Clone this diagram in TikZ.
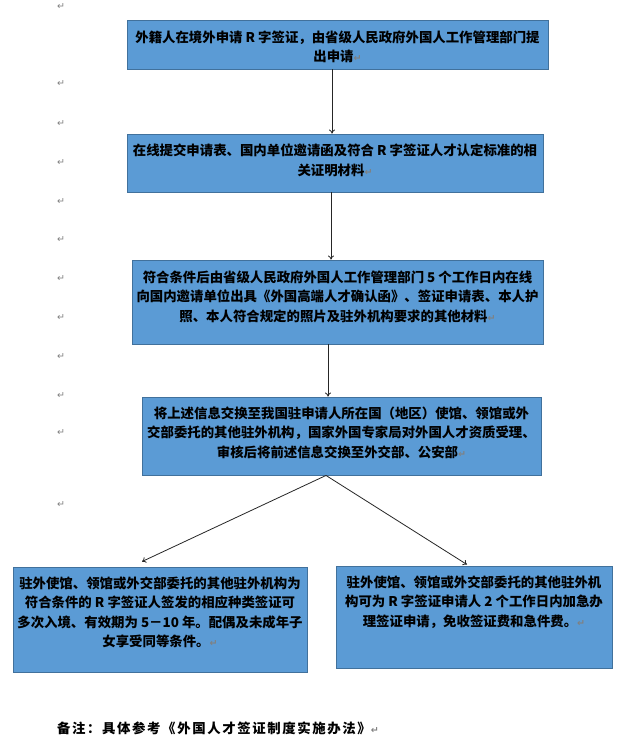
\documentclass[tikz,border=0pt]{standalone}
\usepackage{fontspec}
\setmainfont{Noto Sans CJK SC}
\newfontfamily\symfont{DejaVu Sans}
\usetikzlibrary{arrows.meta,calc}
\definecolor{boxfill}{HTML}{5B9BD5}
\definecolor{boxline}{HTML}{41719C}
\newcommand\parmark{{\symfont\color{gray}\fontsize{9.5}{9.5}\selectfont ↵}}
\tikzset{
  box/.style={draw=boxline, fill=boxfill, line width=0.9pt, inner sep=0pt},
  txt/.style={anchor=north, align=center, inner sep=0pt,
    font=\bfseries\fontsize{13.4}{19.5}\selectfont},
  arr/.style={draw=black!85, line width=0.8pt, -{To[length=4pt,width=6pt]}},
  pmk/.style={inner sep=0pt, font=\symfont\fontsize{9.5}{9.5}\selectfont, text=gray}
}
\begin{document}
\begin{tikzpicture}[x=1pt,y=-1pt]
\useasboundingbox[fill=white] (0,0) rectangle (639,745);
% paragraph marks on the left
\foreach \yy [count=\i] in {7,84,124,163,202,240,279,318,357,396,433,505}
  \node[pmk] (pm\i) at (61,\yy) {↵};
% boxes
\node[box, minimum width=421pt, minimum height=49pt]  (b1) at (337.5,44.5) {};
\node[box, minimum width=416pt, minimum height=58pt]  (b2) at (335,163) {};
\node[box, minimum width=411pt, minimum height=84pt]  (b3) at (337.5,302) {};
\node[box, minimum width=399pt, minimum height=78pt]  (b4) at (341.5,436) {};
\node[box, minimum width=294pt, minimum height=105pt] (b5) at (160,619.5) {};
\node[box, minimum width=276pt, minimum height=102pt] (b6) at (474,617) {};
% texts
\node[txt] (t1) at ([yshift=-11pt]b1.north) {外籍人在境外申请 R 字签证，由省级人民政府外国人工作管理部门提\\出申请\parmark};
\node[txt] (t2) at ([yshift=-10.5pt]b2.north) {在线提交申请表、国内单位邀请函及符合 R 字签证人才认定标准的相\\关证明材料\parmark};
\node[txt] (t3) at ([yshift=-11pt]b3.north) {符合条件后由省级人民政府外国人工作管理部门 5 个工作日内在线\\向国内邀请单位出具《外国高端人才确认函》、签证申请表、本人护\\照、本人符合规定的照片及驻外机构要求的其他材料\parmark};
\node[txt] (t4) at ([yshift=-10pt]b4.north) {将上述信息交换至我国驻申请人所在国（地区）使馆、领馆或外\\交部委托的其他驻外机构，国家外国专家局对外国人才资质受理、\\审核后将前述信息交换至外交部、公安部\parmark};
\node[txt] (t5) at ([yshift=-10pt]b5.north) {驻外使馆、领馆或外交部委托的其他驻外机构为\\符合条件的 R 字签证人签发的相应种类签证可\\多次入境、有效期为 5－10 年。配偶及未成年子\\女享受同等条件。\parmark};
\node[txt] (t6) at ([yshift=-10pt]b6.north) {驻外使馆、领馆或外交部委托的其他驻外机\\构可为 R 字签证申请人 2 个工作日内加急办\\理签证申请，免收签证费和急件费。\parmark};
% note
\node[txt, anchor=west] (note) at (57,728) {\addfontfeature{LetterSpace=12}备注：具体参考《外国人才签证制度实施办法》\parmark};
% connectors
\draw[arr] (b1.south -| 332,0) -- (b2.north -| 332,0);
\draw[arr] (b2.south -| 331,0) -- (b3.north -| 331,0);
\draw[arr] (b3.south -| 328,0) -- (b4.north -| 328,0);
\draw[arr] (b4.south -| 326,0) -- ($(b5.north -| 142,0)+(0,-5)$);
\draw[arr] (b4.south -| 326,0) -- ($(b6.north -| 467,0)+(0,-1)$);
\end{tikzpicture}
\end{document}
